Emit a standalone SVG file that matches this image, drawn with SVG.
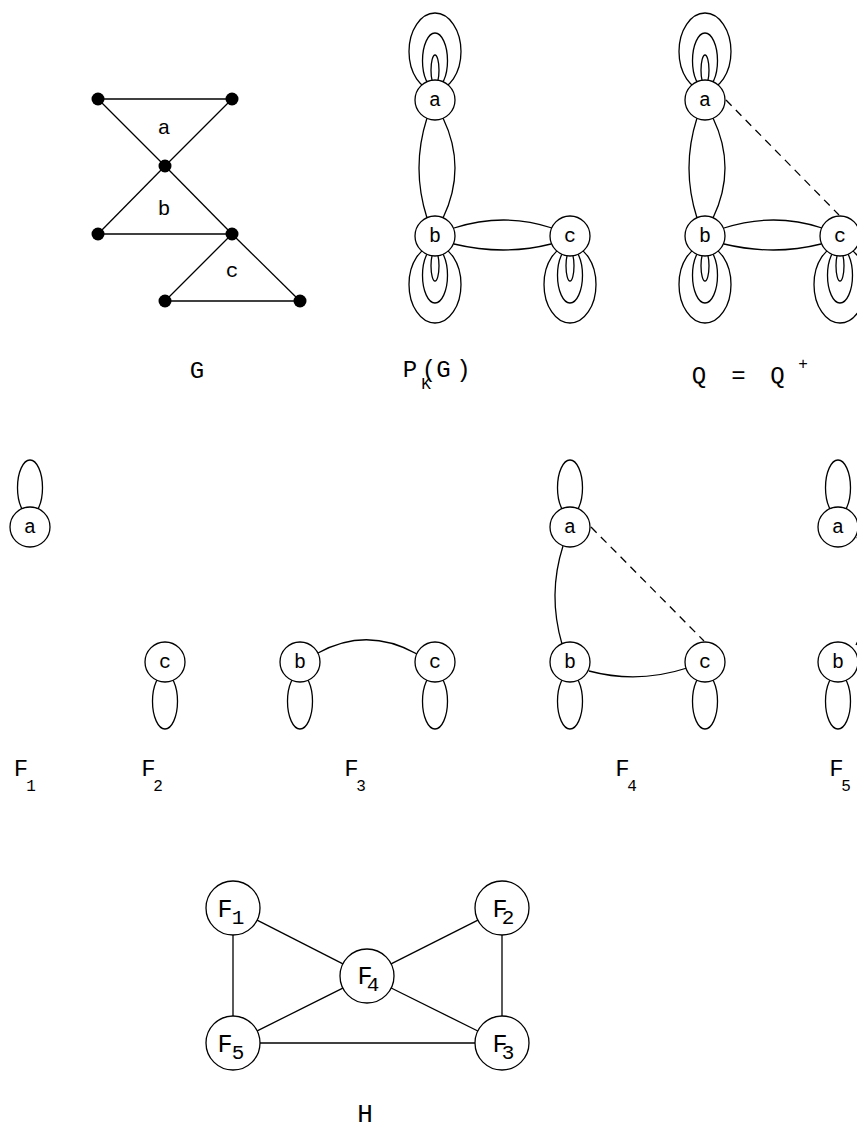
<svg xmlns="http://www.w3.org/2000/svg" xmlns:xlink="http://www.w3.org/1999/xlink" width="857" height="1128" viewBox="0 0 857 1128">
<style>
.e{fill:none;stroke:#000;stroke-width:1.3}
.d{fill:none;stroke:#000;stroke-width:1.3;stroke-dasharray:8,6}
.n{fill:#fff;stroke:#000;stroke-width:1.3}
.v{fill:#000}
.t{font-family:"Liberation Mono","Courier New",monospace;fill:#000;text-anchor:middle}
.nl{font-size:20px}
.gl{font-size:21px}
.rl{font-size:24px}
.sb{font-size:16px}
.hf{font-size:25px}
.hs{font-size:21px}
</style>
<defs>
<g id="loop3" class="e">
<ellipse cx="0" cy="-48.4" rx="26" ry="38.6"/>
<ellipse cx="0" cy="-39.3" rx="12.5" ry="27.7"/>
<ellipse cx="0" cy="-29.8" rx="4" ry="15.2"/>
</g>
<g id="loop1" class="e">
<ellipse cx="0" cy="-39.3" rx="12.5" ry="27.7"/>
</g>
</defs>
<rect width="857" height="1128" fill="#fff"/>

<!-- Graph G -->
<g id="G-edges" class="e">
<line x1="98" y1="99" x2="232" y2="99"/>
<line x1="98" y1="99" x2="165" y2="166"/>
<line x1="232" y1="99" x2="165" y2="166"/>
<line x1="165" y1="166" x2="98" y2="234"/>
<line x1="165" y1="166" x2="232" y2="234"/>
<line x1="98" y1="234" x2="232" y2="234"/>
<line x1="232" y1="234" x2="165" y2="301"/>
<line x1="232" y1="234" x2="300" y2="301"/>
<line x1="165" y1="301" x2="300" y2="301"/>
</g>
<g id="G-vertices" class="v">
<circle cx="98" cy="99" r="6.5"/>
<circle cx="232" cy="99" r="6.5"/>
<circle cx="165" cy="166" r="6.5"/>
<circle cx="98" cy="234" r="6.5"/>
<circle cx="232" cy="234" r="6.5"/>
<circle cx="165" cy="301" r="6.5"/>
<circle cx="300" cy="301" r="6.5"/>
</g>
<g id="G-labels" class="t gl">
<text x="164" y="134">a</text>
<text x="164" y="215">b</text>
<text x="232" y="277">c</text>
</g>

<!-- connectors -->
<g id="connectors">
<!-- P_K(G) -->
<use xlink:href="#loop3" href="#loop3" transform="translate(435,100)"/>
<use xlink:href="#loop3" href="#loop3" transform="translate(435,236) rotate(180)"/>
<use xlink:href="#loop3" href="#loop3" transform="translate(570,236) rotate(180)"/>
<path class="e" d="M427,118 Q411,168 427,218"/>
<path class="e" d="M443,118 Q467,168 443,218"/>
<path class="e" d="M454,228 Q504,212 552,228"/>
<path class="e" d="M454,244 Q504,256 551,244"/>
<!-- Q -->
<use xlink:href="#loop3" href="#loop3" transform="translate(705,100)"/>
<use xlink:href="#loop3" href="#loop3" transform="translate(705,236) rotate(180)"/>
<use xlink:href="#loop3" href="#loop3" transform="translate(840,236) rotate(180)"/>
<path class="e" d="M697,118 Q681,168 697,218"/>
<path class="e" d="M713,118 Q737,168 713,218"/>
<path class="e" d="M724,228 Q774,212 822,228"/>
<path class="e" d="M724,244 Q774,256 821,244"/>
<line class="d" x1="726" y1="100" x2="839" y2="215"/>
<!-- F1 -->
<use xlink:href="#loop1" href="#loop1" transform="translate(30,527)"/>
<!-- F2 -->
<use xlink:href="#loop1" href="#loop1" transform="translate(165,662) rotate(180)"/>
<!-- F3 -->
<use xlink:href="#loop1" href="#loop1" transform="translate(300,662) rotate(180)"/>
<use xlink:href="#loop1" href="#loop1" transform="translate(435,662) rotate(180)"/>
<path class="e" d="M318,653 Q367,626 417,654"/>
<!-- F4 -->
<use xlink:href="#loop1" href="#loop1" transform="translate(570,527)"/>
<use xlink:href="#loop1" href="#loop1" transform="translate(570,662) rotate(180)"/>
<use xlink:href="#loop1" href="#loop1" transform="translate(705,662) rotate(180)"/>
<path class="e" d="M563,546 Q547.5,594.5 562,644"/>
<path class="e" d="M589,671 Q638,684 687,668"/>
<line class="d" x1="591" y1="527" x2="704" y2="641"/>
<!-- F5 -->
<use xlink:href="#loop1" href="#loop1" transform="translate(838,527)"/>
<use xlink:href="#loop1" href="#loop1" transform="translate(838,662) rotate(180)"/>
<path class="e" d="M857,537 Q882,595 856,645"/>
<!-- H -->
<line class="e" x1="233" y1="935" x2="233" y2="1016"/>
<line class="e" x1="502" y1="935" x2="502" y2="1016"/>
<line class="e" x1="260" y1="1043" x2="475" y2="1043"/>
<line class="e" x1="257.1" y1="920.2" x2="342.9" y2="963.8"/>
<line class="e" x1="477.9" y1="920.1" x2="391.1" y2="963.9"/>
<line class="e" x1="342.8" y1="988.1" x2="257.2" y2="1030.9"/>
<line class="e" x1="391.2" y1="988" x2="477.8" y2="1031"/>
</g>

<!-- P_K(G) nodes -->
<g id="PK-a"><circle class="n" cx="435" cy="100" r="20"/><text class="t nl" x="435" y="106">a</text></g>
<g id="PK-b"><circle class="n" cx="435" cy="236" r="20"/><text class="t nl" x="435" y="242">b</text></g>
<g id="PK-c"><circle class="n" cx="570" cy="236" r="20"/><text class="t nl" x="570" y="242">c</text></g>
<!-- Q nodes -->
<g id="Q-a"><circle class="n" cx="705" cy="100" r="20"/><text class="t nl" x="705" y="106">a</text></g>
<g id="Q-b"><circle class="n" cx="705" cy="236" r="20"/><text class="t nl" x="705" y="242">b</text></g>
<g id="Q-c"><circle class="n" cx="840" cy="236" r="20"/><text class="t nl" x="840" y="242">c</text></g>
<!-- F1..F5 nodes -->
<g id="F1-a"><circle class="n" cx="30" cy="527" r="20"/><text class="t nl" x="30" y="533">a</text></g>
<g id="F2-c"><circle class="n" cx="165" cy="662" r="20"/><text class="t nl" x="165" y="668">c</text></g>
<g id="F3-b"><circle class="n" cx="300" cy="662" r="20"/><text class="t nl" x="300" y="668">b</text></g>
<g id="F3-c"><circle class="n" cx="435" cy="662" r="20"/><text class="t nl" x="435" y="668">c</text></g>
<g id="F4-a"><circle class="n" cx="570" cy="527" r="20"/><text class="t nl" x="570" y="533">a</text></g>
<g id="F4-b"><circle class="n" cx="570" cy="662" r="20"/><text class="t nl" x="570" y="668">b</text></g>
<g id="F4-c"><circle class="n" cx="705" cy="662" r="20"/><text class="t nl" x="705" y="668">c</text></g>
<g id="F5-a"><circle class="n" cx="838" cy="527" r="20"/><text class="t nl" x="838" y="533">a</text></g>
<g id="F5-b"><circle class="n" cx="838" cy="662" r="20"/><text class="t nl" x="838" y="668">b</text></g>

<!-- H nodes -->
<g id="H-F1"><circle class="n" cx="233" cy="908" r="27"/><text class="t hf" x="225" y="917">F</text><text class="t hs" x="238" y="924">1</text></g>
<g id="H-F2"><circle class="n" cx="502" cy="908" r="27"/><text class="t hf" x="500" y="917">F</text><text class="t hs" x="508" y="924">2</text></g>
<g id="H-F4"><circle class="n" cx="367" cy="976" r="27"/><text class="t hf" x="365" y="984">F</text><text class="t hs" x="373" y="991">4</text></g>
<g id="H-F5"><circle class="n" cx="233" cy="1043" r="27"/><text class="t hf" x="225" y="1052">F</text><text class="t hs" x="238" y="1059">5</text></g>
<g id="H-F3"><circle class="n" cx="502" cy="1043" r="27"/><text class="t hf" x="500" y="1052">F</text><text class="t hs" x="508" y="1059">3</text></g>

<!-- captions -->
<g id="captions" class="t">
<text class="rl" x="197" y="378">G</text>
<text class="rl" x="410" y="377">P</text>
<text class="sb" x="426" y="389">K</text>
<text class="rl" x="429" y="377">(</text>
<text class="rl" x="443.5" y="377">G</text>
<text class="rl" x="463.5" y="377">)</text>
<text class="rl" x="699" y="383">Q</text>
<text class="rl" x="738.5" y="383">=</text>
<text class="rl" x="777.5" y="383">Q</text>
<text class="sb" x="803" y="369">+</text>
<text class="rl" x="21" y="776">F</text><text class="sb" x="31" y="791">1</text>
<text class="rl" x="148.5" y="776">F</text><text class="sb" x="158" y="791">2</text>
<text class="rl" x="351.5" y="776">F</text><text class="sb" x="361" y="791">3</text>
<text class="rl" x="622.5" y="776">F</text><text class="sb" x="632" y="791">4</text>
<text class="rl" x="836.5" y="776">F</text><text class="sb" x="846" y="791">5</text>
<text class="rl" x="365" y="1122" style="font-size:26px">H</text>
</g>
</svg>
